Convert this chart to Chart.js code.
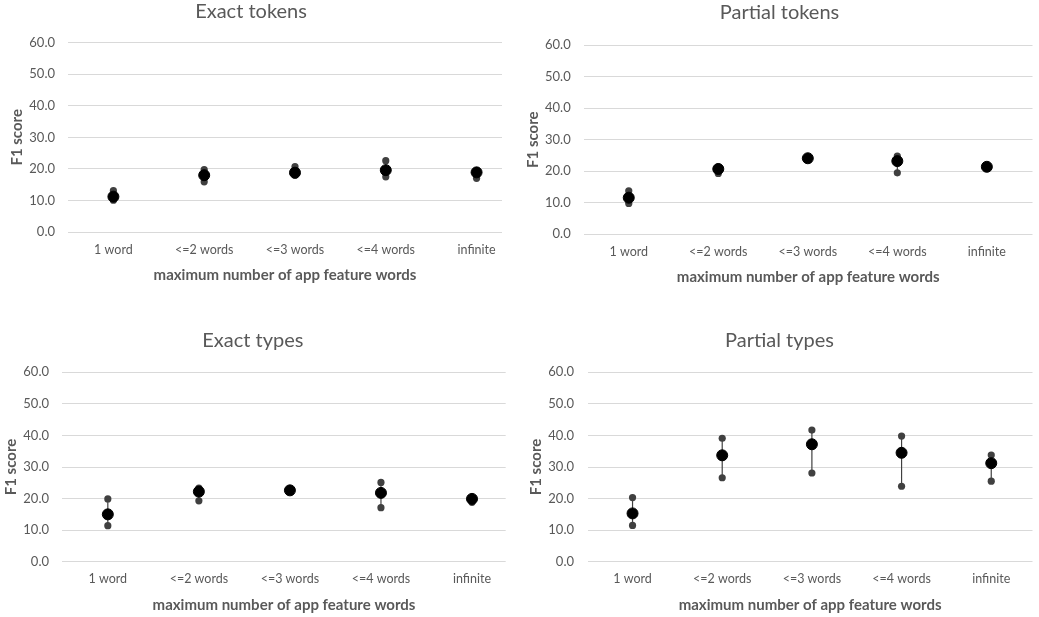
<!DOCTYPE html>
<html>
<head>
<meta charset="utf-8">
<script src="https://cdn.jsdelivr.net/npm/chart.js@4.4.1/dist/chart.umd.min.js"></script>
<style>
  html, body { margin: 0; padding: 0; background: #fff; }
  body { width: 1039px; height: 617px; position: relative; overflow: hidden; }
  .panel { position: absolute; }
</style>
</head>
<body>
<div class="panel" style="left:0;top:0;width:520px;height:300px"><canvas id="exactTokens"></canvas></div>
<div class="panel" style="left:520px;top:0;width:519px;height:300px"><canvas id="partialTokens"></canvas></div>
<div class="panel" style="left:0;top:310px;width:520px;height:307px"><canvas id="exactTypes"></canvas></div>
<div class="panel" style="left:520px;top:310px;width:519px;height:307px"><canvas id="partialTypes"></canvas></div>
<script>
// categorias do eixo x
const categories = ['1 word', '<=2 words', '<=3 words', '<=4 words', 'infinite'];
const yTicks = [0, 10, 20, 30, 40, 50, 60];

// Exact tokens
const exactTokensMean = [11.2, 18.0, 18.8, 19.6, 18.9];
const exactTokensMin  = [10.1, 15.9, 18.0, 17.5, 17.0];
const exactTokensMax  = [13.1, 19.8, 20.7, 22.6, 19.4];

// Partial tokens
const partialTokensMean = [11.6, 20.7, 24.1, 23.2, 21.4];
const partialTokensMin  = [9.8, 19.3, 23.8, 19.5, 21.1];
const partialTokensMax  = [13.8, 21.4, 24.4, 24.8, 21.7];

// Exact types
const exactTypesMean = [15.0, 22.2, 22.6, 21.8, 19.9];
const exactTypesMin  = [11.4, 19.3, 22.3, 17.1, 18.8];
const exactTypesMax  = [19.9, 23.3, 22.9, 25.1, 20.3];

// Partial types
const partialTypesMean = [15.3, 33.7, 37.2, 34.5, 31.2];
const partialTypesMin  = [11.5, 26.6, 28.1, 23.9, 25.5];
const partialTypesMax  = [20.3, 39.1, 41.7, 39.8, 33.8];

const textColor = '#595959';
const gridColor = '#d9d9d9';
const fontFamily = 'Lato, "Open Sans", sans-serif';

function makeChart(id, title, mean, min, max, lay) {
    // segmentos verticais min-max, separados por null
    const rangeData = [];
    categories.forEach(function (c, i) {
        rangeData.push({ x: i + 1, y: min[i] });
        rangeData.push({ x: i + 1, y: max[i] });
        rangeData.push({ x: i + 1, y: null });
    });
    const meanData = mean.map(function (v, i) { return { x: i + 1, y: v }; });

    return new Chart(document.getElementById(id), {
        type: 'scatter',
        data: {
            datasets: [{
                label: 'mean',
                data: meanData,
                backgroundColor: '#000',
                borderColor: '#000',
                pointRadius: 5.5,
                pointHoverRadius: 5.5
            }, {
                label: 'range',
                data: rangeData,
                showLine: true,
                spanGaps: false,
                borderColor: '#404040',
                borderWidth: 1.2,
                backgroundColor: '#404040',
                pointBackgroundColor: '#404040',
                pointBorderWidth: 0,
                pointRadius: 3.6
            }]
        },
        options: {
            responsive: true,
            maintainAspectRatio: false,
            animation: false,
            layout: { padding: { top: 0, left: 0, right: lay.padR, bottom: 0 } },
            plugins: {
                legend: { display: false },
                tooltip: { enabled: false },
                title: {
                    display: true,
                    text: title,
                    color: textColor,
                    font: { family: fontFamily, size: 20, weight: 'normal', lineHeight: 1.2 },
                    padding: { top: lay.titleTop, bottom: lay.titleBottom }
                }
            },
            scales: {
                x: {
                    type: 'linear',
                    min: 0.5,
                    max: lay.xMax,
                    grid: { display: false, drawTicks: false },
                    border: { display: false },
                    afterBuildTicks: function (scale) {
                        scale.ticks = categories.map(function (c, i) { return { value: i + 1 }; });
                    },
                    afterFit: function (scale) { scale.height = lay.xH; },
                    ticks: {
                        color: textColor,
                        padding: lay.xTickPad,
                        maxRotation: 0,
                        autoSkip: false,
                        font: { family: fontFamily, size: 12.5, lineHeight: 1.2 },
                        callback: function (v) { return categories[v - 1]; }
                    },
                    title: {
                        display: true,
                        text: 'maximum number of app feature words',
                        color: textColor,
                        font: { family: fontFamily, size: 15, weight: 'bold', lineHeight: 1.2 },
                        padding: { top: 0, bottom: lay.xTitlePad }
                    }
                },
                y: {
                    min: 0,
                    max: 60,
                    afterBuildTicks: function (scale) {
                        scale.ticks = yTicks.map(function (v) { return { value: v }; });
                    },
                    afterFit: function (scale) { scale.width = lay.yW; },
                    grid: { color: gridColor, lineWidth: 1, drawTicks: false },
                    border: { display: false },
                    ticks: {
                        color: textColor,
                        padding: lay.yTickPad,
                        font: { family: fontFamily, size: 13, lineHeight: 1.2 },
                        callback: function (v) { return Number(v).toFixed(1); }
                    },
                    title: {
                        display: true,
                        text: 'F1 score',
                        color: textColor,
                        font: { family: fontFamily, size: 15, weight: 'bold', lineHeight: 1.2 },
                        padding: { top: lay.yTitlePad, bottom: 0 }
                    }
                }
            }
        }
    });
}

document.addEventListener('DOMContentLoaded', function () {
    makeChart('exactTokens', 'Exact tokens', exactTokensMean, exactTokensMin, exactTokensMax,
        { padR: 18, titleTop: 0, titleBottom: 18.7, xMax: 5.28, xH: 68, xTickPad: 10.4, xTitlePad: 16,
          yW: 68, yTickPad: 13, yTitlePad: 8 });
    makeChart('partialTokens', 'Partial tokens', partialTokensMean, partialTokensMin, partialTokensMax,
        { padR: 0, titleTop: 0.5, titleBottom: 20.5, xMax: 5.51, xH: 65.7, xTickPad: 10.2, xTitlePad: 14,
          yW: 64, yTickPad: 13.3, yTitlePad: 4 });
    makeChart('exactTypes', 'Exact types', exactTypesMean, exactTypesMin, exactTypesMax,
        { padR: 14.3, titleTop: 18.7, titleBottom: 19.6, xMax: 5.37, xH: 55.3, xTickPad: 9.8, xTitlePad: 3,
          yW: 62.3, yTickPad: 13.3, yTitlePad: 2 });
    makeChart('partialTypes', 'Partial types', partialTypesMean, partialTypesMin, partialTypesMax,
        { padR: 0, titleTop: 18.7, titleBottom: 19.6, xMax: 5.46, xH: 55.3, xTickPad: 9.8, xTitlePad: 3,
          yW: 67.7, yTickPad: 13.7, yTitlePad: 7 });
});
</script>
</body>
</html>
